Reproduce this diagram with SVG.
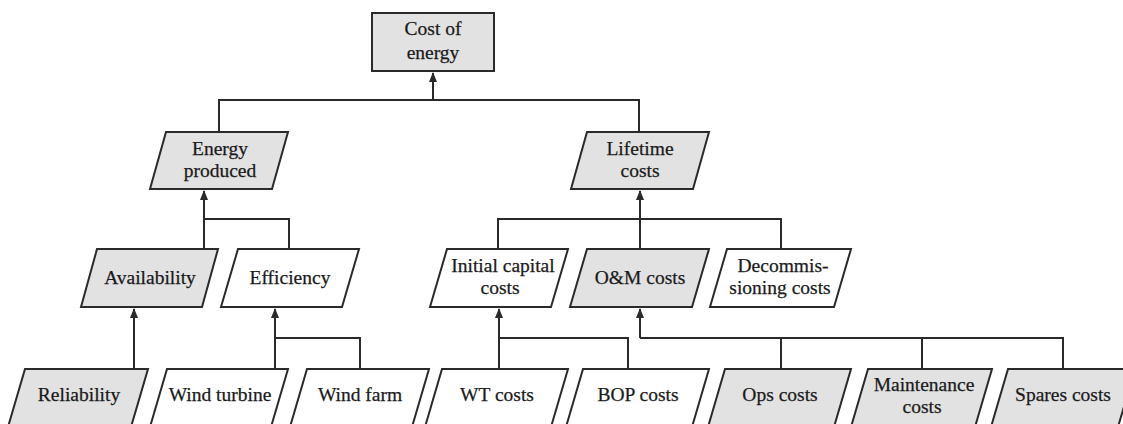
<svg xmlns="http://www.w3.org/2000/svg" width="1123" height="424" viewBox="0 0 1123 424">
  <style>
    .box { stroke: #2a2a2a; stroke-width: 2; }
    .grey { fill: #e2e2e2; }
    .white { fill: #ffffff; }
    .lbl { font-family: "Liberation Serif", "Times New Roman", serif; font-size: 19.5px; fill: #1a1a1a; stroke: #1a1a1a; stroke-width: 0.25; text-anchor: middle; }
    .wire { fill: none; stroke: #2a2a2a; stroke-width: 2; }
  </style>
  <defs>
    <!-- filled triangular head, tip along +x so orient="auto" points it up the wire -->
    <marker id="arrow" viewBox="0 0 10 8" refX="9" refY="4" markerWidth="10" markerHeight="8" markerUnits="userSpaceOnUse" orient="auto">
      <path d="M0,0 L10,4 L0,8 Z" fill="#2a2a2a"/>
    </marker>
  </defs>
  <rect width="1123" height="424" fill="#ffffff"/>

  <!-- connectors -->
  <g id="connectors">
    <!-- to Cost of energy -->
    <path class="wire" d="M219,132 V100 H639 V132"/>
    <path class="wire" d="M433,100 V73" marker-end="url(#arrow)"/>
    <!-- to Energy produced -->
    <path class="wire" d="M204,249 V219 H289 V249"/>
    <path class="wire" d="M204,219 V191" marker-end="url(#arrow)"/>
    <!-- to Lifetime costs -->
    <path class="wire" d="M498,249 V219 H781 V249"/>
    <path class="wire" d="M640,249 V191" marker-end="url(#arrow)"/>
    <!-- to Availability -->
    <path class="wire" d="M134,369 V309" marker-end="url(#arrow)"/>
    <!-- to Efficiency -->
    <path class="wire" d="M275,369 V338 H360 V369"/>
    <path class="wire" d="M275,338 V309" marker-end="url(#arrow)"/>
    <!-- to Initial capital costs -->
    <path class="wire" d="M499,369 V338 H628 V369"/>
    <path class="wire" d="M499,338 V309" marker-end="url(#arrow)"/>
    <!-- to O&M costs -->
    <path class="wire" d="M640,338 H1063 V369 M781,338 V369 M922,338 V369"/>
    <path class="wire" d="M640,338 V309" marker-end="url(#arrow)"/>
  </g>

  <g id="cost-of-energy">
    <rect class="box grey" x="372" y="13" width="122" height="58"/>
    <text class="lbl" x="433" y="35">Cost of</text>
    <text class="lbl" x="433" y="59">energy</text>
  </g>

  <g id="energy-produced">
    <polygon class="box grey" points="166,132 288,132 272,189 150,189"/>
    <text class="lbl" x="220" y="155">Energy</text>
    <text class="lbl" x="220" y="177">produced</text>
  </g>

  <g id="lifetime-costs">
    <polygon class="box grey" points="587,132 709,132 693,189 571,189"/>
    <text class="lbl" x="640" y="155">Lifetime</text>
    <text class="lbl" x="640" y="177">costs</text>
  </g>

  <g id="availability">
    <polygon class="box grey" points="97,249 218,249 202,307 81,307"/>
    <text class="lbl" x="150" y="284">Availability</text>
  </g>

  <g id="efficiency">
    <polygon class="box white" points="238,249 359,249 342,307 221,307"/>
    <text class="lbl" x="290" y="284">Efficiency</text>
  </g>

  <g id="initial-capital-costs">
    <polygon class="box white" points="447,249 568,249 551,307 430,307"/>
    <text class="lbl" x="503" y="272">Initial capital</text>
    <text class="lbl" x="500" y="294">costs</text>
  </g>

  <g id="om-costs">
    <polygon class="box grey" points="587,249 709,249 692,307 570,307"/>
    <text class="lbl" x="640" y="284">O&amp;M costs</text>
  </g>

  <g id="decommissioning-costs">
    <polygon class="box white" points="727,249 851,249 834,307 710,307"/>
    <text class="lbl" x="783" y="272">Decommis-</text>
    <text class="lbl" x="780" y="294">sioning costs</text>
  </g>

  <g id="reliability">
    <polygon class="box grey" points="25,369 148,369 131,427 8,427"/>
    <text class="lbl" x="79" y="401">Reliability</text>
  </g>

  <g id="wind-turbine">
    <polygon class="box white" points="167,369 288,369 271,427 150,427"/>
    <text class="lbl" x="220" y="401">Wind turbine</text>
  </g>

  <g id="wind-farm">
    <polygon class="box white" points="307,369 429,369 412,427 290,427"/>
    <text class="lbl" x="360" y="401">Wind farm</text>
  </g>

  <g id="wt-costs">
    <polygon class="box white" points="442,369 568,369 551,427 425,427"/>
    <text class="lbl" x="497" y="401">WT costs</text>
  </g>

  <g id="bop-costs">
    <polygon class="box white" points="583,369 709,369 692,427 566,427"/>
    <text class="lbl" x="638" y="401">BOP costs</text>
  </g>

  <g id="ops-costs">
    <polygon class="box grey" points="725,369 851,369 834,427 708,427"/>
    <text class="lbl" x="780" y="401">Ops costs</text>
  </g>

  <g id="maintenance-costs">
    <polygon class="box grey" points="868,369 992,369 975,427 851,427"/>
    <text class="lbl" x="924" y="391">Maintenance</text>
    <text class="lbl" x="922" y="413">costs</text>
  </g>

  <g id="spares-costs">
    <polygon class="box grey" points="1008,369 1135,369 1118,427 991,427"/>
    <text class="lbl" x="1063" y="401">Spares costs</text>
  </g>
</svg>
